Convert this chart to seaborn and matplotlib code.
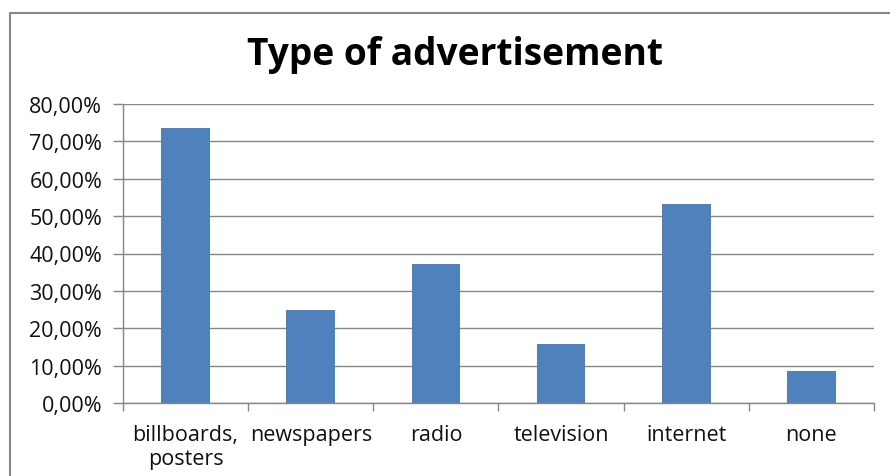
import matplotlib
matplotlib.use("Agg")
import matplotlib.pyplot as plt
import seaborn as sns
import pandas as pd
import numpy as np
from matplotlib.lines import Line2D
from matplotlib.ticker import FuncFormatter, FixedLocator

categories = ["billboards,\nposters", "newspapers", "radio", "television", "internet", "none"]
values = [73.6, 24.9, 37.2, 15.8, 53.2, 8.6]
yticks = [0, 10, 20, 30, 40, 50, 60, 70, 80]

sns.set_theme(style="white")
plt.rcParams['font.family'] = ['Open Sans', 'DejaVu Sans']

df = pd.DataFrame({"cat": categories, "val": values})

fig = plt.figure(figsize=(8.9, 4.77), dpi=100)
ax = fig.add_axes([123/890, 1-404/477, (874-123)/890, (404-105)/477])

sns.barplot(data=df, x="cat", y="val", color="#4F81BD", saturation=1, width=0.39, ax=ax)
for p in ax.patches:
    p.set_edgecolor("none")

grid_c = "#868686"
ax.set_ylim(0, 80)
ax.set_xlim(-0.5, len(categories) - 0.5)
ax.set_yticks(yticks)
ax.yaxis.set_major_formatter(FuncFormatter(lambda v, p: f"{v:.2f}%".replace(".", ",")))
ax.yaxis.grid(True, color=grid_c, linewidth=1)
ax.set_axisbelow(True)
ax.set_xlabel("")
ax.set_ylabel("")

for s in ["top", "right"]:
    ax.spines[s].set_visible(False)
for s in ["left", "bottom"]:
    ax.spines[s].set_visible(True)
    ax.spines[s].set_color(grid_c)
    ax.spines[s].set_linewidth(1)

ax.tick_params(axis="y", which="major", left=True, length=7, width=1, color=grid_c,
               labelsize=15.5, labelcolor="#111111", pad=8)
ax.tick_params(axis="x", which="major", bottom=False, labelsize=15.5, labelcolor="#111111", pad=9)
for lbl in ax.get_xticklabels():
    lbl.set_linespacing(1.22)
ax.xaxis.set_minor_locator(FixedLocator(np.arange(-0.5, len(categories), 1.0)))
ax.tick_params(axis="x", which="minor", bottom=True, length=6, width=1, color=grid_c)

fig.text(455/890, 1-55/477, "Type of advertisement", ha="center", va="center",
         fontsize=26.7, fontweight="bold", color="black")

# chart frame (cropped)
fig.add_artist(Line2D([10/890, 10/890], [0, 1-14/477], transform=fig.transFigure,
                      color=grid_c, linewidth=1.5))
fig.add_artist(Line2D([10/890, 1], [1-14/477, 1-14/477], transform=fig.transFigure,
                      color=grid_c, linewidth=1.5))

fig.savefig("out.png", dpi=100)
